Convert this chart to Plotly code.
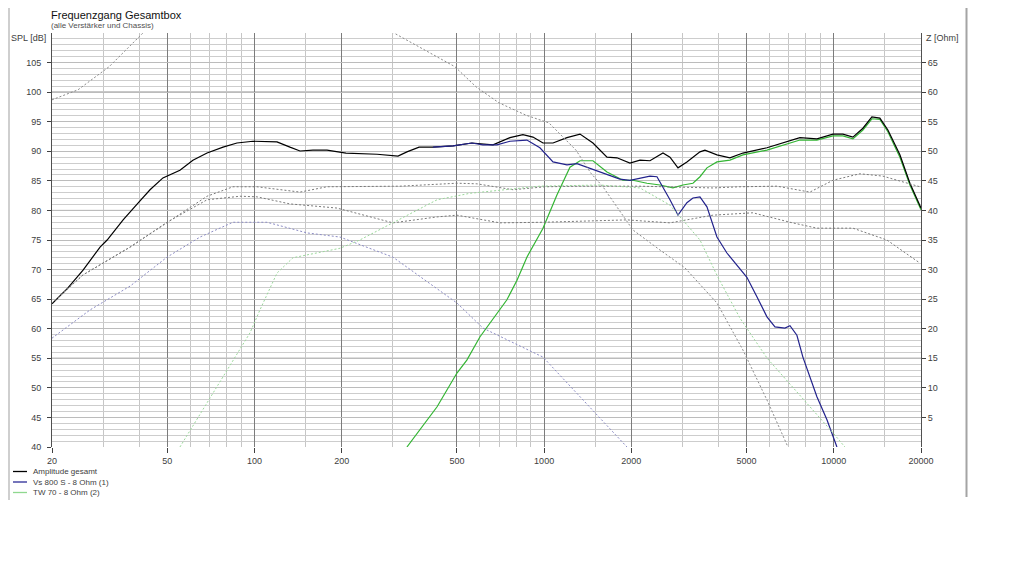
import math
import plotly.graph_objects as go

# ---------------- data ----------------
# Amplitude gesamt (black)
freq_total = [20, 22.7, 25.6, 29.3, 31.0, 35.2, 39.9, 43.6, 48.3, 55.3, 61.3, 68.6, 77.9, 87.0, 98.8,
              110.5, 119.6, 132.6, 143.6, 159.2, 178, 207, 265, 313, 336, 370, 413, 485, 563, 666,
              762, 845, 915, 991, 1073, 1199, 1330, 1474, 1648, 1784, 1978, 2142, 2319, 2572, 2719,
              2898, 3111, 3451, 3591, 3950, 4380, 4856, 5878, 7638, 8744, 9932, 10750, 11640, 12604,
              13536, 14424, 15372, 16910, 18312, 20000]
spl_total = [64.2, 66.9, 69.9, 73.8, 75.0, 78.4, 81.4, 83.5, 85.5, 86.8, 88.5, 89.7, 90.7, 91.4, 91.7,
             91.6, 91.6, 90.7, 90.05, 90.2, 90.2, 89.7, 89.5, 89.2, 89.9, 90.7, 90.7, 90.9, 91.4, 91.1,
             92.3, 92.8, 92.4, 91.4, 91.4, 92.3, 92.9, 91.4, 89.0, 88.9, 88.0, 88.5, 88.4, 89.7, 89.0,
             87.2, 88.2, 89.9, 90.2, 89.4, 88.9, 89.7, 90.6, 92.3, 92.1, 92.9, 92.9, 92.4, 93.9,
             95.8, 95.6, 93.6, 89.4, 84.6, 80.4]

# Vs 800 S - 8 Ohm (1) (blue)
freq_woofer = [413, 485, 563, 615, 687, 762, 872, 967, 1073, 1199, 1298, 1406, 1648, 1826, 1978, 2142,
               2319, 2452, 2572, 2719, 2898, 3111, 3264, 3451, 3648, 3950, 4276, 4630, 5012, 5427,
               5878, 6264, 6781, 7058, 7458, 7822, 8744, 9470, 10252]
spl_woofer = [90.7, 90.9, 91.4, 91.1, 91.1, 91.7, 91.9, 90.6, 88.2, 87.7, 87.9, 87.3, 86.0, 85.3, 85.1, 85.5,
              85.8, 85.7, 84.0, 81.8, 79.2, 81.3, 82.1, 82.3, 80.6, 75.5, 72.8, 70.8, 68.7, 65.4,
              62.0, 60.3, 60.1, 60.5, 58.9, 55.2, 48.5, 44.6, 40.0]

# TW 70 - 8 Ohm (2) (green)
freq_tweeter = [336, 373, 427, 500, 541, 600, 687, 744, 806, 872, 991, 1107, 1228, 1330, 1474, 1648,
                1871, 2025, 2264, 2512, 2785, 3014, 3264, 3451, 3648, 3950, 4380, 4856, 5878, 7638,
                8744, 9932, 10750, 11640, 12604, 13536, 14424, 15372, 16910, 18312, 20000]
spl_tweeter = [40.0, 42.9, 46.8, 52.5, 54.7, 58.6, 62.7, 64.9, 68.2, 72.1, 77.0, 82.6, 87.3, 88.4, 88.4, 86.5,
               85.1, 85.1, 84.6, 84.3, 83.8, 84.3, 84.6, 85.7, 87.2, 88.2, 88.5, 89.4, 90.2, 91.9,
               91.9, 92.6, 92.6, 92.1, 93.6, 95.5, 95.4, 93.3, 89.0, 84.3, 80.1]

# dotted curves, right axis (Z [Ohm])
freq_z1 = [20, 24.6, 31.5, 41.2, 50, 70, 100, 140, 200, 260, 303, 492, 582, 698, 866, 1039, 1288,
           1450, 1596, 2025, 2512, 3062, 3950, 4856, 5878, 6946]
z1 = [58.7, 60.4, 64.3, 70.0, 73.0, 77.0, 79.0, 79.0, 76.5, 73.0, 70.0, 64.3, 60.9, 58.2, 56.1, 54.8, 50.2,
      46.3, 44.0, 36.7, 33.3, 30.3, 24.35, 16.4, 7.95, 0.0]

freq_z2 = [20, 25.6, 37.2, 49.9, 68.6, 84.3, 102, 143.6, 178, 318, 500, 586, 781, 1007, 1330, 2142,
           3826, 4742, 6364, 8270, 9932, 12306, 14774, 19826]
z2 = [24.35, 29.1, 33.8, 38.0, 42.4, 44.0, 44.0, 43.1, 44.0, 44.1, 44.6, 44.5, 43.5, 44.0, 44.1, 44.1,
      43.8, 44.0, 44.1, 43.1, 45.1, 46.2, 45.8, 44.0]

freq_z3 = [20, 25.6, 37.2, 49.9, 68.6, 89.1, 102, 132.6, 192.7, 300.6, 427, 500, 704, 991, 1932, 2719,
           3826, 5257, 7058, 8744, 11640, 15250, 19826]
z3 = [24.35, 29.1, 33.8, 38.0, 41.8, 42.4, 42.3, 41.1, 40.4, 37.9, 38.9, 39.2, 37.9, 38.0, 38.4, 37.9,
      39.2, 39.6, 38.0, 37.0, 37.0, 35.0, 31.1]

freq_z4 = [20, 27.1, 37.2, 49.9, 64.9, 84.3, 110.5, 151.8, 197.3, 300.6, 500, 615, 991, 1383, 1932]
z4 = [18.4, 23.2, 27.2, 32.1, 35.5, 38.0, 38.0, 36.2, 35.5, 32.1, 24.35, 20.1, 15.2, 7.6, 0.0]

freq_z5 = [55.3, 73.1, 96.5, 104.5, 119.6, 135.8, 197.3, 231, 300.6, 427, 555, 967, 1558, 2142, 2719,
           3451, 3982, 4742, 5878, 7638, 9932, 10922]
z5 = [0.0, 9.6, 19.3, 23.2, 29.4, 32.0, 33.6, 35.0, 37.9, 41.8, 42.9, 44.1, 44.3, 43.8, 40.9,
      35.0, 28.7, 21.8, 15.05, 8.8, 2.4, 0.0]

x_tick_vals = [20, 50, 100, 200, 500, 1000, 2000, 5000, 10000, 20000]
x_tick_text = ["20", "50", "100", "200", "500", "1000", "2000", "5000", "10000", "20000"]
x_minor_vals = [30, 40, 60, 70, 80, 90, 150, 300, 600, 700, 800, 900, 1500, 3000, 4000,
                6000, 7000, 8000, 9000, 15000]
y_tick_vals = [40, 45, 50, 55, 60, 65, 70, 75, 80, 85, 90, 95, 100, 105]
y_dark_lines = [55, 80, 100]
z_tick_vals = [5, 10, 15, 20, 25, 30, 35, 40, 45, 50, 55, 60, 65]

legend_names = ["Amplitude gesamt", "Vs 800 S - 8 Ohm (1)", "TW 70 - 8 Ohm (2)"]
legend_colors = ["#000000", "#2a2a96", "#8fd88f"]

# ---------------- figure ----------------
# the page body has an 8px margin; the figure is sized so that it fills the window
OFF = 8
W, H = 1024 - OFF, 587 - OFF
# plot area in window pixels
L, R, T, B = 52, 921, 33, 447


def px_x(p):
    return (p - L) / (R - L)


def px_y(p):
    return (B - p) / (B - T)


fig = go.Figure()

dot = "2px,2px"
dotted = [
    (freq_z1, z1, "#8a8a8a"),
    (freq_z2, z2, "#7a7a7a"),
    (freq_z3, z3, "#7a7a7a"),
    (freq_z4, z4, "#8c8cc4"),
    (freq_z5, z5, "#9ad89a"),
]
for fx, zy, col in dotted:
    fig.add_trace(go.Scatter(x=fx, y=zy, yaxis="y2", mode="lines",
                             line=dict(color=col, width=1, dash=dot),
                             showlegend=False, hoverinfo="skip"))

fig.add_trace(go.Scatter(x=freq_tweeter, y=spl_tweeter, mode="lines", name=legend_names[2],
                         line=dict(color="#33b533", width=1.2), showlegend=False))
fig.add_trace(go.Scatter(x=freq_total, y=spl_total, mode="lines", name=legend_names[0],
                         line=dict(color="#000000", width=1.2), showlegend=False))
fig.add_trace(go.Scatter(x=freq_woofer, y=spl_woofer, mode="lines", name=legend_names[1],
                         line=dict(color="#22228c", width=1.2), showlegend=False))

tick_font = dict(family="Liberation Sans, Arial, sans-serif", size=9, color="#404040")

fig.update_layout(
    width=W, height=H,
    margin=dict(l=L - OFF, r=OFF + W - R, t=T - OFF, b=OFF + H - B, pad=0),
    paper_bgcolor="white", plot_bgcolor="white",
    showlegend=False,
    font=tick_font,
    xaxis=dict(type="log", range=[math.log10(20), math.log10(20000)],
               tickmode="array", tickvals=x_tick_vals, ticktext=x_tick_text,
               showgrid=True, gridcolor="#7c7c7c", gridwidth=1,
               ticks="outside", ticklen=5, tickcolor="#404040",
               showline=False, zeroline=False, tickfont=tick_font,
               minor=dict(tickmode="array", tickvals=x_minor_vals, showgrid=True,
                          gridcolor="#c6c6c6", gridwidth=1, ticks="")),
    yaxis=dict(range=[40, 110], tickmode="array", tickvals=y_tick_vals,
               showgrid=True, gridcolor="#bcbcbc", gridwidth=1,
               ticks="outside", ticklen=4, tickcolor="#404040",
               showline=True, linecolor="#505050", linewidth=1, zeroline=False,
               tickfont=tick_font, ticklabelstandoff=4,
               minor=dict(tickmode="linear", tick0=40, dtick=1, showgrid=True,
                          gridcolor="#cdcdcd", gridwidth=1, ticks="")),
    yaxis2=dict(range=[0, 70], overlaying="y", side="right", anchor="x",
                tickmode="array", tickvals=z_tick_vals,
                showgrid=False, ticks="outside", ticklen=4, tickcolor="#404040",
                showline=True, linecolor="#505050", linewidth=1, zeroline=False,
                tickfont=tick_font),
)

shapes = []
for v in y_dark_lines:
    shapes.append(dict(type="line", xref="paper", yref="paper", x0=0, x1=1,
                       y0=(v - 40) / 70, y1=(v - 40) / 70,
                       line=dict(color="#666666", width=1), layer="between"))
# window frame lines
shapes.append(dict(type="line", xref="paper", yref="paper", x0=px_x(9), x1=px_x(9),
                   y0=px_y(OFF), y1=px_y(500), line=dict(color="#cfcfcf", width=2), layer="above"))
shapes.append(dict(type="line", xref="paper", yref="paper", x0=px_x(966.5), x1=px_x(966.5),
                   y0=px_y(OFF), y1=px_y(497), line=dict(color="#a4a4a4", width=2), layer="above"))

annotations = [
    dict(text="Frequenzgang Gesamtbox", xref="paper", yref="paper", x=px_x(49), y=px_y(14.5),
         xanchor="left", yanchor="middle", showarrow=False,
         font=dict(family="Liberation Sans, Arial, sans-serif", size=11, color="#101010")),
    dict(text="(alle Verstärker und Chassis)", xref="paper", yref="paper", x=px_x(49), y=px_y(25.5),
         xanchor="left", yanchor="middle", showarrow=False,
         font=dict(family="Liberation Sans, Arial, sans-serif", size=8, color="#505050")),
    dict(text="SPL [dB]", xref="paper", yref="paper", x=px_x(48), y=px_y(38),
         xanchor="right", yanchor="middle", showarrow=False, font=tick_font),
    dict(text="Z [Ohm]", xref="paper", yref="paper", x=px_x(924), y=px_y(38),
         xanchor="left", yanchor="middle", showarrow=False, font=tick_font),
]

# custom legend
leg_rows = [471.5, 482, 492.5]
for name, col, ry in zip(legend_names, legend_colors, leg_rows):
    shapes.append(dict(type="line", xref="paper", yref="paper", x0=px_x(13), x1=px_x(27),
                       y0=px_y(ry), y1=px_y(ry), line=dict(color=col, width=1.3)))
    annotations.append(dict(text=name, xref="paper", yref="paper", x=px_x(31), y=px_y(ry),
                            xanchor="left", yanchor="middle", showarrow=False,
                            font=dict(family="Liberation Sans, Arial, sans-serif", size=8,
                                      color="#404040")))

fig.update_layout(shapes=shapes, annotations=annotations)

fig.write_html("out.html", config={"displayModeBar": False})
